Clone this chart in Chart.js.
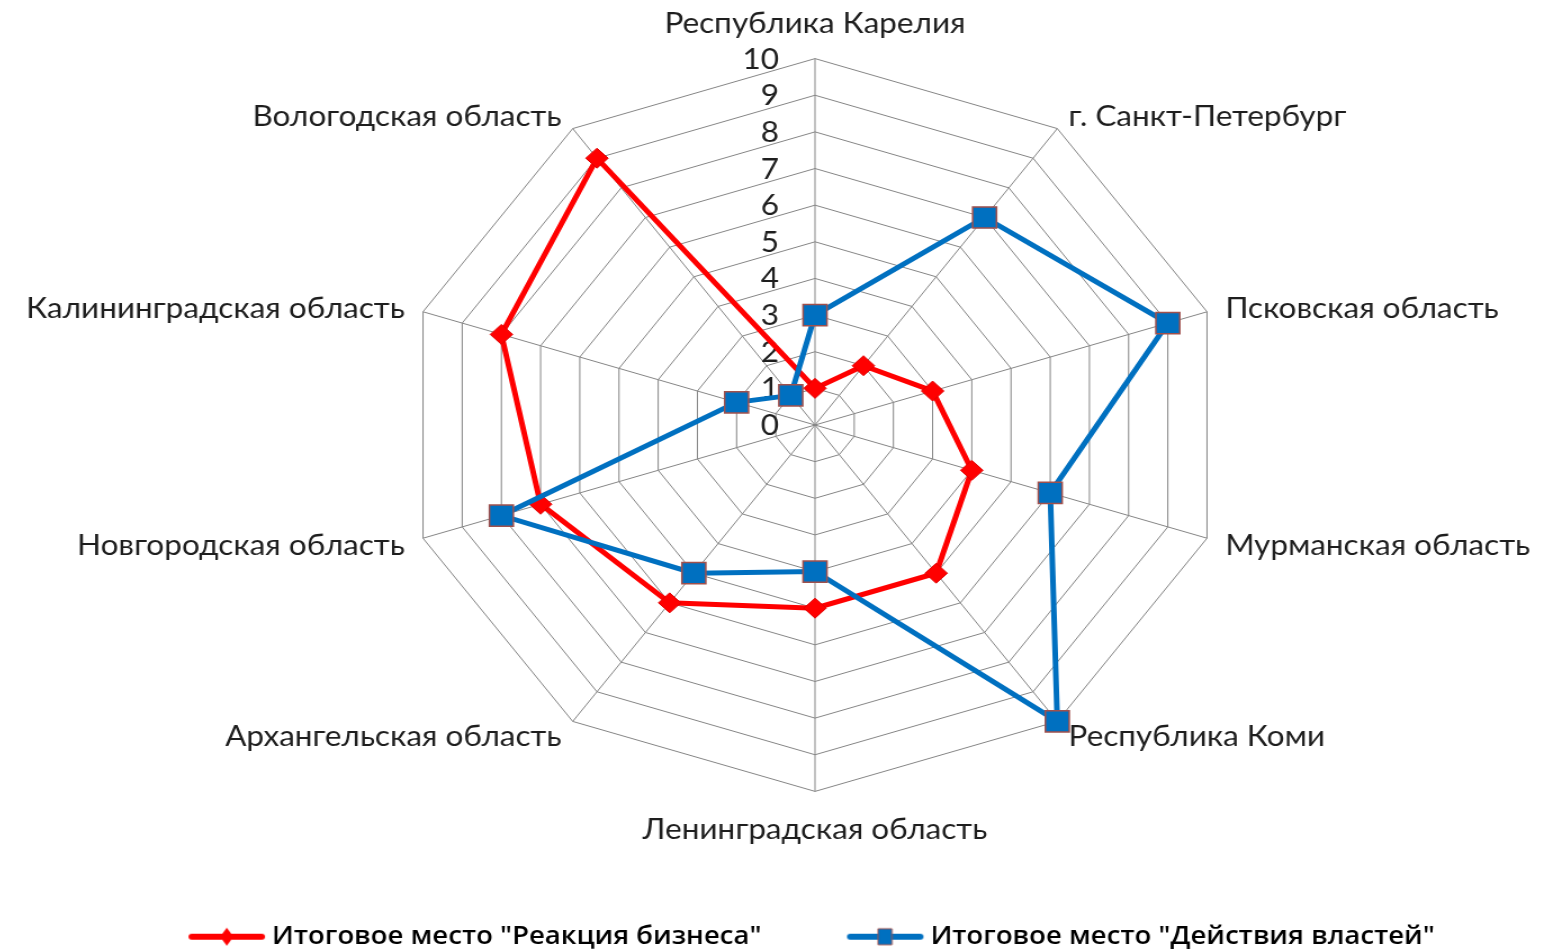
<!DOCTYPE html>
<html>
<head>
<meta charset="utf-8">
<script src="https://cdn.jsdelivr.net/npm/chart.js@4"></script>
<style>
    html, body { margin: 0; padding: 0; background: #fff; overflow: hidden; }
    #wrap {
        position: absolute; left: 0; top: 0;
        width: 1500px; height: 951px;
        transform-origin: 0 0;
        transform: translateX(-28.75px) scaleX(1.125);
    }
</style>
</head>
<body>
<div id="wrap"><canvas id="radarChart"></canvas></div>
<script>
const regions = [
    "Республика Карелия",
    "г. Санкт-Петербург",
    "Псковская область",
    "Мурманская область",
    "Республика Коми",
    "Ленинградская область",
    "Архангельская область",
    "Новгородская область",
    "Калининградская область",
    "Вологодская область"
];
const businessRank = [1, 2, 3, 4, 5, 5, 6, 7, 8, 9];
const authorityRank = [3, 7, 9, 6, 10, 4, 5, 8, 2, 1];
const tickValues = [0, 1, 2, 3, 4, 5, 6, 7, 8, 9, 10];

const seriesNames = ['Итоговое место "Реакция бизнеса"', 'Итоговое место "Действия властей"'];
const RED = "#ff0000";
const BLUE = "#0070c0";
const TEXT = "#1e1e1e";
const LABEL_FONT = "28px Lato";

// small line-with-marker icons for the legend
function makeLegendIcon(color, marker) {
    const c = document.createElement("canvas");
    c.width = 70;
    c.height = 22;
    const g = c.getContext("2d");
    g.strokeStyle = color;
    g.lineWidth = 6;
    g.lineCap = "round";
    g.beginPath();
    g.moveTo(4, 11);
    g.lineTo(66, 11);
    g.stroke();
    g.fillStyle = color;
    g.beginPath();
    if (marker === "diamond") {
        g.moveTo(35, 2); g.lineTo(41, 11); g.lineTo(35, 20); g.lineTo(29, 11);
    } else {
        g.rect(29, 3, 12, 16);
    }
    g.closePath();
    g.fill();
    if (marker !== "diamond") {
        g.strokeStyle = "#a0504c";
        g.lineWidth = 1;
        g.stroke();
    }
    return c;
}
const legendIcons = [makeLegendIcon(RED, "diamond"), makeLegendIcon(BLUE, "square")];

// tick numbers to the left of the vertical axis, 0 included
const tickLabels = {
    id: "tickLabels",
    beforeDatasetsDraw(chart) {
        const scale = chart.scales.r;
        const ctx = chart.ctx;
        ctx.save();
        ctx.font = LABEL_FONT;
        ctx.fillStyle = TEXT;
        ctx.textAlign = "right";
        ctx.textBaseline = "middle";
        tickValues.forEach(v => {
            const d = scale.getDistanceFromCenterForValue(v);
            ctx.fillText(String(v), scale.xCenter - 32, scale.yCenter - d + 1);
        });
        ctx.restore();
    }
};

// region names centred on their spoke direction (Excel style)
const regionLabels = {
    id: "regionLabels",
    beforeDatasetsDraw(chart) {
        const scale = chart.scales.r;
        const ctx = chart.ctx;
        const outer = scale.getDistanceFromCenterForValue(scale.max);
        ctx.save();
        ctx.font = LABEL_FONT;
        ctx.fillStyle = TEXT;
        ctx.textBaseline = "middle";
        regions.forEach((name, i) => {
            const deg = Math.round(scale.getIndexAngle(i) * 180 / Math.PI) % 360;
            let p;
            if (deg === 0 || deg === 180) {
                p = scale.getPointPosition(i, outer + 37);
                ctx.textAlign = "center";
            } else {
                p = scale.getPointPosition(i, outer + 17);
                ctx.textAlign = deg < 180 ? "left" : "right";
            }
            ctx.fillText(name, p.x, p.y + 2);
        });
        ctx.restore();
    }
};

new Chart(document.getElementById("radarChart"), {
    type: "radar",
    data: {
        labels: regions,
        datasets: [{
            label: seriesNames[0],
            data: businessRank,
            borderColor: RED,
            backgroundColor: RED,
            borderWidth: 5,
            fill: false,
            pointStyle: "rectRot",
            pointRadius: 10,
            pointHoverRadius: 10,
            pointBackgroundColor: RED,
            pointBorderColor: "#e00000",
            pointBorderWidth: 1,
            order: 1
        }, {
            label: seriesNames[1],
            data: authorityRank,
            borderColor: BLUE,
            backgroundColor: BLUE,
            borderWidth: 5,
            fill: false,
            pointStyle: "rect",
            pointRadius: 15,
            pointHoverRadius: 15,
            pointBackgroundColor: BLUE,
            pointBorderColor: "#a0504c",
            pointBorderWidth: 1.5,
            order: 0
        }]
    },
    options: {
        responsive: true,
        maintainAspectRatio: false,
        animation: false,
        events: [],
        layout: { padding: { top: 8, bottom: -8 } },
        scales: {
            r: {
                min: 0,
                max: 10,
                ticks: { stepSize: 1, display: false },
                grid: { color: "#858585", lineWidth: 1 },
                angleLines: { color: "#858585", lineWidth: 1 },
                pointLabels: {
                    // kept for layout fitting, drawn by regionLabels
                    font: { family: "Lato", size: 28 },
                    color: "rgba(0,0,0,0)",
                    padding: 17
                }
            }
        },
        plugins: {
            tooltip: { enabled: false },
            legend: {
                position: "bottom",
                labels: {
                    usePointStyle: true,
                    pointStyleWidth: 56,
                    font: { family: "Open Sans", size: 24.5, weight: "600" },
                    color: "#000",
                    padding: 82,
                    sort: (a, b) => a.datasetIndex - b.datasetIndex,
                    generateLabels(chart) {
                        const items = Chart.defaults.plugins.legend.labels.generateLabels(chart);
                        return items.map(item => Object.assign(item, { pointStyle: legendIcons[item.datasetIndex] }));
                    }
                }
            }
        }
    },
    plugins: [tickLabels, regionLabels]
});
</script>
</body>
</html>
